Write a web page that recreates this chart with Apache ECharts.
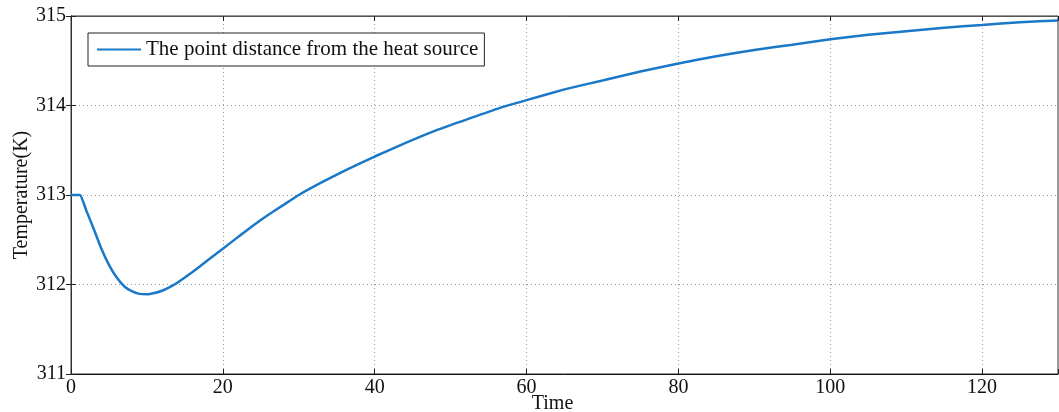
<!DOCTYPE html>
<html>
<head>
<meta charset="utf-8">
<script src="https://cdn.jsdelivr.net/npm/echarts@6/dist/echarts.min.js"></script>
<style>
html,body{margin:0;padding:0;background:#fff;}
#c{width:1059px;height:412px;}
</style>
</head>
<body>
<div id="c"></div>
<script>
const seriesName = 'The point distance from the heat source';
const times = [0, 1.2, 2, 3, 4, 5, 6, 7, 8, 9, 10, 11, 12, 13, 14, 16, 18, 20, 22, 24, 26, 28, 30, 33, 36, 40, 44, 48, 52, 56, 60, 65, 70, 75, 80, 85, 90, 95, 100, 105, 110, 115, 120, 125, 130];
const temps = [313.00, 313.00, 312.83, 312.62, 312.40, 312.22, 312.08, 311.98, 311.925, 311.895, 311.89, 311.905, 311.93, 311.97, 312.02, 312.14, 312.27, 312.40, 312.53, 312.66, 312.78, 312.89, 313.00, 313.14, 313.27, 313.43, 313.58, 313.72, 313.84, 313.96, 314.06, 314.18, 314.28, 314.38, 314.47, 314.55, 314.62, 314.68, 314.74, 314.79, 314.83, 314.87, 314.90, 314.93, 314.95];
const xTicks = [0, 20, 40, 60, 80, 100, 120];
const yTicks = [311, 312, 313, 314, 315];

const font = 'Liberation Serif, Times New Roman, serif';
const chart = echarts.init(document.getElementById('c'), null, {renderer: 'canvas'});
const data = times.map((t, i) => [t, temps[i]]);

const tickStyle = {show: true, inside: true, length: 5, lineStyle: {color: '#222', width: 1}};
const gridStyle = {show: true, lineStyle: {color: '#9a9a9a', type: [1, 3], width: 1}};

chart.setOption({
  animation: false,
  backgroundColor: '#fff',
  grid: {left: 71, right: 1, top: 16, bottom: 38, outerBoundsMode: 'none', containLabel: false,
    show: true, borderColor: '#333', borderWidth: 1},
  legend: {
    left: 88, top: 33,
    orient: 'horizontal',
    data: [seriesName],
    icon: 'rect',
    itemWidth: 44, itemHeight: 2,
    padding: [6, 6, 6, 9],
    borderColor: '#222', borderWidth: 1,
    backgroundColor: '#fff',
    textStyle: {fontFamily: font, fontSize: 21, color: '#111'}
  },
  xAxis: [{
    type: 'value', min: 0, max: 130, interval: 20,
    name: 'Time', nameLocation: 'middle', nameGap: 20, nameMoveOverlap: false,
    nameTextStyle: {fontFamily: font, fontSize: 20, color: '#111', padding: [0, 24, 0, 0]},
    axisLine: {show: true, lineStyle: {color: '#111', width: 1}},
    axisTick: tickStyle,
    axisLabel: {fontFamily: font, fontSize: 20, color: '#111', margin: 4,
      formatter: v => xTicks.includes(v) ? String(v) : ''},
    splitLine: gridStyle
  }, {
    type: 'value', min: 0, max: 130, interval: 20, position: 'top',
    axisLine: {show: true, lineStyle: {color: '#555', width: 1}},
    axisTick: tickStyle, axisLabel: {show: false}, splitLine: {show: false}
  }],
  yAxis: [{
    type: 'value', min: 311, max: 315, interval: 1,
    name: 'Temperature(K)', nameLocation: 'middle', nameGap: 39, nameRotate: 90, nameMoveOverlap: false,
    nameTextStyle: {fontFamily: font, fontSize: 20, color: '#111'},
    axisLine: {show: true, lineStyle: {color: '#111', width: 1}},
    axisTick: tickStyle,
    axisLabel: {fontFamily: font, fontSize: 20, color: '#111', margin: 5,
      formatter: v => yTicks.includes(v) ? String(v) : ''},
    splitLine: gridStyle
  }, {
    type: 'value', min: 311, max: 315, interval: 1, position: 'right',
    axisLine: {show: true, lineStyle: {color: '#333', width: 1}},
    axisTick: tickStyle, axisLabel: {show: false}, splitLine: {show: false}
  }],
  series: [{
    name: seriesName,
    type: 'line',
    data: data,
    smooth: 0.12,
    showSymbol: false,
    symbol: 'none',
    lineStyle: {color: '#1a78c8', width: 2.5},
    itemStyle: {color: '#1a78c8'}
  }]
});
</script>
</body>
</html>
